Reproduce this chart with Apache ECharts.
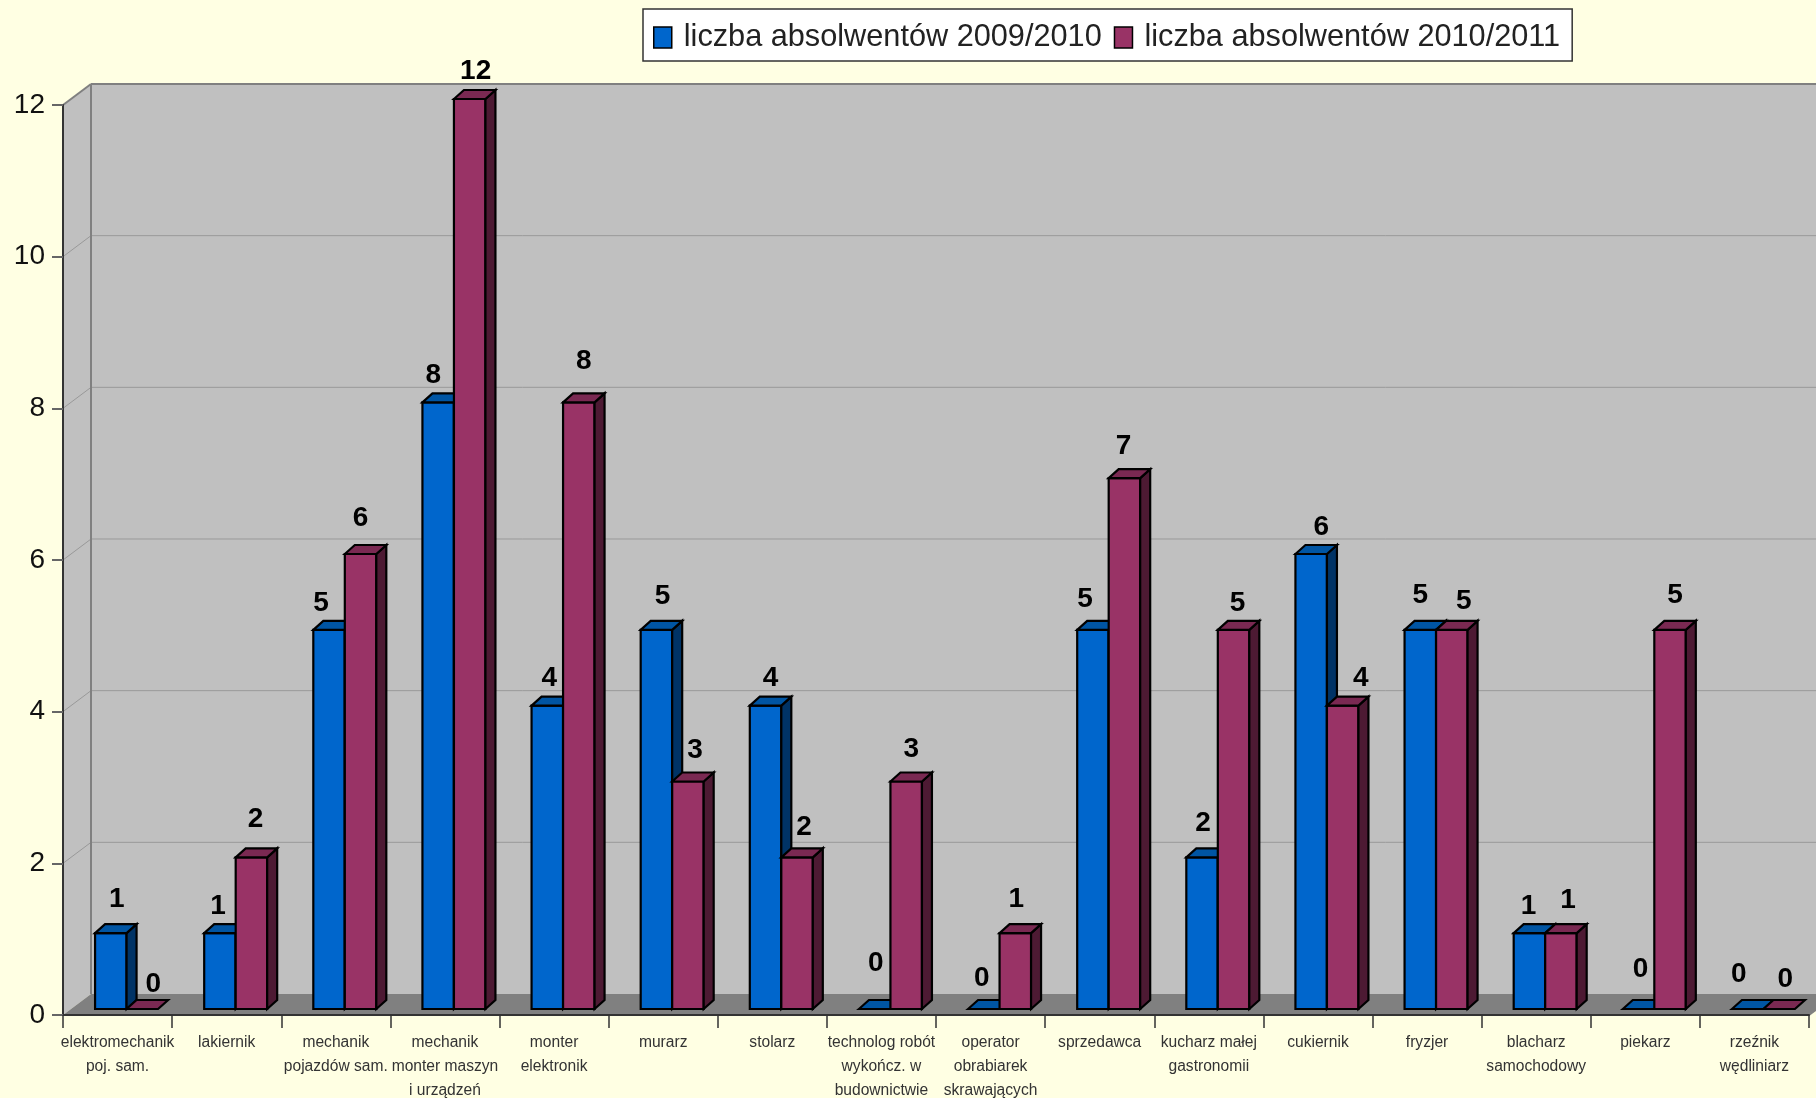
<!DOCTYPE html>
<html>
<head>
<meta charset="utf-8">
<script src="https://cdn.jsdelivr.net/npm/echarts@6/dist/echarts.min.js"></script>
<style>
  html, body { margin: 0; padding: 0; background: #ffffe3; }
  #chart { width: 1816px; height: 1098px; }
</style>
</head>
<body>
<div id="chart"></div>
<script>
const categories = [
  'elektromechanik\npoj. sam.', 'lakiernik', 'mechanik\npojazdów sam.',
  'mechanik\nmonter maszyn\ni urządzeń', 'monter\nelektronik', 'murarz', 'stolarz',
  'technolog robót\nwykończ. w\nbudownictwie', 'operator\nobrabiarek\nskrawających',
  'sprzedawca', 'kucharz małej\ngastronomii', 'cukiernik', 'fryzjer',
  'blacharz\nsamochodowy', 'piekarz', 'rzeźnik\nwędliniarz'
]
const seriesNames = ['liczba absolwentów 2009/2010', 'liczba absolwentów 2010/2011']
const values2010 = [1, 1, 5, 8, 4, 5, 4, 0, 0, 5, 2, 6, 5, 1, 0, 0]
const values2011 = [0, 2, 6, 12, 8, 3, 2, 3, 1, 7, 5, 4, 5, 1, 5, 0]
const yTicks = [0, 2, 4, 6, 8, 10, 12]

// the old chart shifts its value labels around a bit, so each one gets a nudge
const labelNudge2010 = [[1, -4], [-7, 3], [-13, 3], [-10, 3], [-3, 3], [1, -4], [0, 3], [-4, -16], [-7, -1], [-13, -1], [-4, -4], [5, 3], [-5, -5], [-6, 3], [-3, -10], [-14, -5]]
const labelNudge2011 = [[6, 5], [-1, -8], [-5, -6], [1, 2], [0, -11], [2, -1], [2, 0], [0, -2], [-4, -4], [-6, -2], [-1, 3], [13, 3], [7, 1], [2, -3], [0, -5], [1, 0]]

// fake 3d: how far the back wall and the bars sit from the axis plane
const wallDepth = [28, -21]
const barFront = [9, -6]
const barDepth = [10, -9]
const barWidth = 31.5

const chart = echarts.init(document.getElementById('chart'))

function poly(points, fill, stroke, lineWidth) {
  return {
    type: 'polygon',
    shape: { points: points },
    style: { fill: fill, stroke: stroke || null, lineWidth: lineWidth || 0 }
  }
}

function line(x1, y1, x2, y2, color, width) {
  return {
    type: 'line',
    shape: { x1: x1, y1: y1, x2: x2, y2: y2 },
    style: { stroke: color, lineWidth: width }
  }
}

function renderWalls(params, api) {
  const grid = params.coordSys
  const dx = wallDepth[0]
  const dy = wallDepth[1]
  const left = grid.x
  const right = grid.x + grid.width
  const top = grid.y
  const bottom = grid.y + grid.height
  const children = [
    poly([[left, bottom], [left + dx, bottom + dy], [left + dx, top + dy], [left, top]], '#c0c0c0'),
    poly([[left + dx, bottom + dy], [right + dx, bottom + dy], [right + dx, top + dy], [left + dx, top + dy]], '#c0c0c0'),
    poly([[left, bottom], [left + dx, bottom + dy], [right + dx, bottom + dy], [right, bottom]], '#808080')
  ]
  yTicks.forEach(function (t) {
    if (t === 0) return
    const y = api.coord([0, t])[1]
    const color = t === 12 ? '#808080' : '#999999'
    const width = t === 12 ? 2 : 1
    children.push(line(left, y, left + dx, y + dy, color, width))
    children.push(line(left + dx, y + dy, right + dx, y + dy, color, width))
  })
  children.push(line(left + dx, top + dy, left + dx, bottom + dy, '#808080', 2))
  children.push(line(right, bottom, right + dx, bottom + dy, '#808080', 2))
  return { type: 'group', children: children }
}

function makeBarRenderer(seriesIndex, colors, nudges) {
  return function (params, api) {
    const base = api.coord([api.value(0), 0])
    const topPt = api.coord([api.value(0), api.value(1)])
    const x0 = base[0] + barFront[0] - barWidth + seriesIndex * barWidth
    const x1 = x0 + barWidth
    const yb = base[1] + barFront[1]
    const yt = topPt[1] + barFront[1]
    const dx = barDepth[0]
    const dy = barDepth[1]
    const nudge = nudges[params.dataIndex]
    const edge = '#000000'
    const children = []
    if (api.value(1) > 0) {
      children.push(poly([[x0, yb], [x1, yb], [x1, yt], [x0, yt]], colors.front, edge, 2.2))
      children.push(poly([[x1, yb], [x1 + dx, yb + dy], [x1 + dx, yt + dy], [x1, yt]], colors.side, edge, 2.2))
    }
    children.push(poly([[x0, yt], [x0 + dx, yt + dy], [x1 + dx, yt + dy], [x1, yt]], colors.top, edge, 2.2))
    children.push({
      type: 'text',
      style: {
        text: String(api.value(1)),
        x: (x0 + x1) / 2 + 5 + nudge[0],
        y: yt - 30 + nudge[1],
        align: 'center',
        verticalAlign: 'middle',
        fill: '#000',
        font: 'bold 28px "Liberation Sans", Arial, sans-serif'
      }
    })
    return { type: 'group', children: children }
  }
}

const option = {
  backgroundColor: '#ffffe3',
  animation: false,
  textStyle: { fontFamily: '"Liberation Sans", Arial, sans-serif' },
  legend: {
    data: seriesNames,
    left: 643,
    top: 9,
    orient: 'horizontal',
    backgroundColor: '#ffffff',
    borderColor: '#333333',
    borderWidth: 1.5,
    padding: [13, 12, 8, 10],
    itemWidth: 18,
    itemHeight: 21,
    itemGap: 12,
    icon: 'rect',
    itemStyle: { borderColor: '#000000', borderWidth: 1.5 },
    textStyle: { fontSize: 30.7, color: '#222222', padding: [0, 0, 0, 7], fontFamily: '"Liberation Sans", Arial, sans-serif' },
    selectedMode: false
  },
  grid: { left: 63, right: 7, top: 105, bottom: 83, containLabel: false, outerBoundsMode: 'none' },
  xAxis: {
    type: 'category',
    data: categories,
    boundaryGap: true,
    axisLine: { lineStyle: { color: '#333333', width: 2 } },
    axisTick: { show: true, alignWithLabel: false, length: 13, lineStyle: { color: '#333333', width: 1.5 } },
    axisLabel: {
      interval: 0,
      margin: 16,
      fontSize: 15.6,
      lineHeight: 24,
      color: '#333333',
      verticalAlign: 'top'
    },
    splitLine: { show: false }
  },
  yAxis: {
    type: 'value',
    min: 0,
    max: 12,
    interval: 2,
    axisLine: { show: true, lineStyle: { color: '#333333', width: 2 } },
    axisTick: { show: true, length: 11, lineStyle: { color: '#666666', width: 2 } },
    axisLabel: { margin: 18, fontSize: 28, color: '#111111', padding: [4, 0, 0, 0] },
    splitLine: { show: false }
  },
  series: [
    {
      name: 'walls',
      type: 'custom',
      coordinateSystem: 'cartesian2d',
      clip: false,
      silent: true,
      z: 0,
      renderItem: renderWalls,
      data: [[0, 0]]
    },
    {
      name: seriesNames[0],
      type: 'custom',
      coordinateSystem: 'cartesian2d',
      clip: false,
      z: 3,
      itemStyle: { color: '#0066cc' },
      renderItem: makeBarRenderer(0, { front: '#0066cc', side: '#003366', top: '#0055a3' }, labelNudge2010),
      encode: { x: 0, y: 1 },
      data: values2010.map(function (v, i) { return [i, v] })
    },
    {
      name: seriesNames[1],
      type: 'custom',
      coordinateSystem: 'cartesian2d',
      clip: false,
      z: 4,
      itemStyle: { color: '#993366' },
      renderItem: makeBarRenderer(1, { front: '#993366', side: '#4d1a33', top: '#7a2952' }, labelNudge2011),
      encode: { x: 0, y: 1 },
      data: values2011.map(function (v, i) { return [i, v] })
    }
  ]
}

chart.setOption(option)
</script>
</body>
</html>
